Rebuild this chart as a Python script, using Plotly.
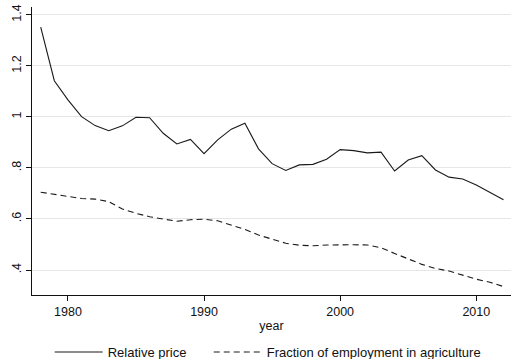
import plotly.graph_objects as go

years = list(range(1978, 2013))

relative_price = [
    1.352, 1.142, 1.067, 1.001, 0.966, 0.946, 0.965, 0.999, 0.997, 0.936,
    0.894, 0.912, 0.856, 0.910, 0.952, 0.975, 0.875, 0.817, 0.790, 0.812,
    0.814, 0.834, 0.872, 0.868, 0.859, 0.862, 0.788, 0.831, 0.848, 0.792,
    0.764, 0.757, 0.733, 0.705, 0.675,
]

agri_employment_share = [
    0.705, 0.697, 0.687, 0.680, 0.678, 0.668, 0.639, 0.622, 0.609, 0.599,
    0.591, 0.597, 0.599, 0.593, 0.576, 0.559, 0.537, 0.520, 0.505, 0.497,
    0.495, 0.498, 0.499, 0.499, 0.498, 0.487, 0.465, 0.444, 0.422, 0.406,
    0.396, 0.380, 0.364, 0.352, 0.335,
]

y_tick_values = [0.4, 0.6, 0.8, 1.0, 1.2, 1.4]
y_tick_labels = [".4", ".6", ".8", "1", "1.2", "1.4"]
x_tick_values = [1980, 1990, 2000, 2010]

FONT = "Liberation Sans, Arial, sans-serif"

fig = go.Figure()
fig.add_trace(go.Scatter(
    x=years, y=relative_price, mode="lines", name="Relative price",
    line=dict(color="#1a1a1a", width=1.1), legend="legend",
))
fig.add_trace(go.Scatter(
    x=years, y=agri_employment_share, mode="lines",
    name="Fraction of employment in agriculture",
    line=dict(color="#1a1a1a", width=1.1, dash="6px,4px"), legend="legend2",
))

legend_style = dict(
    orientation="h", xanchor="left", y=-0.198, yanchor="middle",
    font=dict(size=13, color="#111"), itemwidth=48,
    bgcolor="rgba(0,0,0,0)",
)

fig.update_layout(
    width=511, height=359,
    margin=dict(l=32, r=0, t=7, b=64, autoexpand=False),
    paper_bgcolor="white", plot_bgcolor="white",
    font=dict(family=FONT, size=12.5, color="#111"),
    showlegend=True,
    legend=dict(x=0.037, **legend_style),
    legend2=dict(x=0.369, **legend_style),
    xaxis=dict(
        range=[1977.36, 2012.55], tickvals=x_tick_values,
        showgrid=False, zeroline=False,
        showline=True, linecolor="#111", linewidth=1.3,
        ticks="outside", ticklen=5, tickwidth=1, tickcolor="#111",
        tickfont=dict(size=12.5),
        title=dict(text="year", font=dict(size=12.5), standoff=3),
    ),
    yaxis=dict(
        range=[0.302, 1.431], tickvals=y_tick_values, ticktext=y_tick_labels,
        tickangle=-90,
        showgrid=True, gridcolor="#e6e6e6", gridwidth=1, zeroline=False,
        showline=True, linecolor="#111", linewidth=1.3,
        ticks="outside", ticklen=5, tickwidth=1, tickcolor="#111",
        tickfont=dict(size=12.5),
    ),
)

fig.write_html("out.html")
